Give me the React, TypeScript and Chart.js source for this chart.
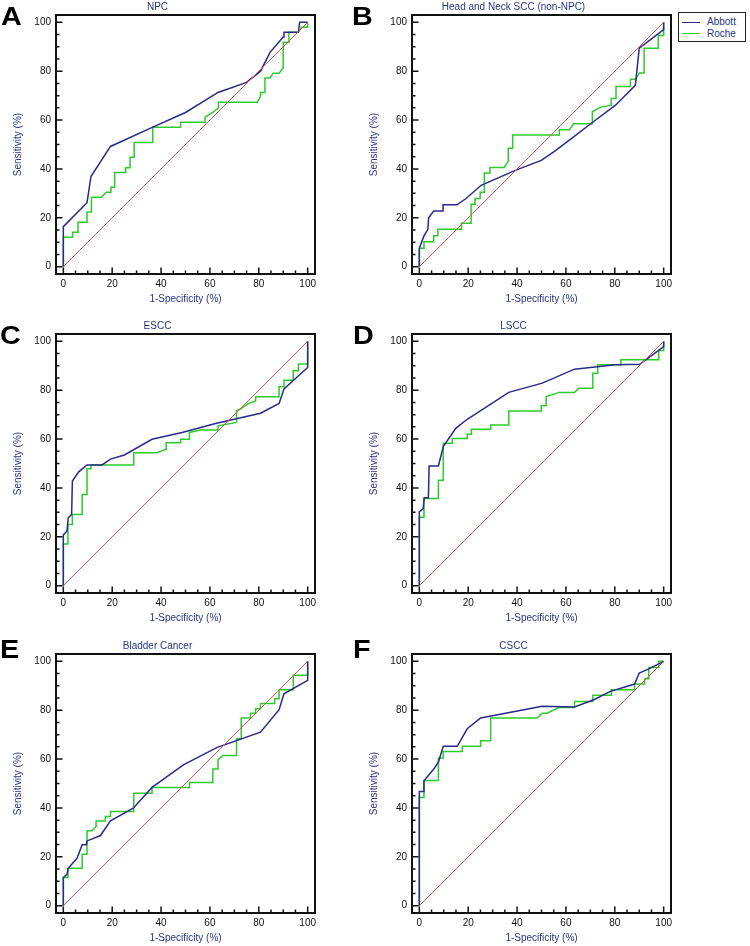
import React, { useEffect, useRef } from "react";
import { Chart, registerables } from "chart.js";

Chart.register(...registerables);

// ---------- data ----------
const panelTitles = [
  "NPC",
  "Head and Neck SCC (non-NPC)",
  "ESCC",
  "LSCC",
  "Bladder Cancer",
  "CSCC",
];
const panelLetters = ["A", "B", "C", "D", "E", "F"];
const seriesNames = ["Abbott", "Roche"];
const tickLabels = [0, 20, 40, 60, 80, 100];
const tickMarks = [0, 5, 10, 15, 20, 25, 30, 35, 40, 45, 50, 55, 60, 65, 70, 75, 80, 85, 90, 95, 100];
const xTitle = "1-Specificity (%)";
const yTitle = "Sensitivity (%)";
const diagonal = [[0, 0], [100, 100]];

const npcAbbott = [[0,0],[0,16.4],[9.7,26.2],[11.3,36.9],[19.3,49.2],[36.6,57.1],[50,63.1],[63.3,71.3],[75,75.4],[80.7,80],[84.6,87.7],[90,94],[90.3,95.9],[96.2,95.9],[96.7,100],[100,100]];
const npcRoche = [[0,0],[0,12],[3.8,12],[3.8,14.1],[6,14.1],[6,18.2],[9.7,18.2],[9.7,22.4],[11.5,22.4],[11.5,28.4],[15.6,28.4],[17.6,30.5],[19.5,30.5],[19.5,32.5],[21,32.5],[21,38.5],[25.5,38.5],[25.5,40.5],[27.3,40.5],[27.3,44.8],[29,44.8],[29,50.8],[36.6,50.8],[36.6,57.1],[48,57.1],[48,59.1],[58,59.1],[58,61.2],[61,63],[63.5,65],[63.5,67.3],[79.4,67.3],[80.7,69.7],[80.7,71.3],[82.5,71.3],[82.5,77.2],[84.5,77.2],[85.9,79.2],[88.3,79.2],[90,81.3],[90,91.8],[92.3,91.8],[92.3,95.9],[96.2,95.9],[97.5,98],[100,98],[100,100]];

const hnAbbott = [[0,0],[0,7.5],[1.9,12.6],[3.5,15.3],[3.8,20],[5.9,22.8],[9.7,22.8],[9.7,25.3],[15.4,25.3],[19,27.8],[25.3,33.3],[39,39.3],[49.9,43.5],[55.3,47.2],[63.4,53.3],[70.8,59],[80.3,66.1],[88.4,74.2],[90,89.4],[100,97],[100,100]];
const hnRoche = [[0,0],[0,7.5],[1.9,7.5],[1.9,10.2],[5.9,10.2],[5.9,12.7],[7.6,12.7],[7.6,15.3],[17.2,15.3],[17.2,17.8],[21.2,17.8],[21.2,25.5],[22.8,25.5],[22.8,27.9],[24.9,27.9],[24.9,30.5],[26.6,30.5],[26.6,38.3],[28.9,38.3],[28.9,40.6],[34.7,40.6],[36.4,43.1],[36.4,48.5],[38.2,48.5],[38.2,53.9],[57.3,53.9],[57.3,56],[61.4,56],[63.1,58.5],[70.8,58.5],[70.8,63.4],[74.2,65.3],[78.5,66],[78.5,68.8],[80.5,68.8],[80.5,73.7],[86.4,73.7],[86.4,76.7],[88.6,76.7],[90,79.3],[92,79.3],[92,89.4],[97.8,89.4],[97.8,94.6],[100,94.6],[100,100]];

const esccAbbott = [[0,0],[0,20.8],[1.5,22.3],[2,27.8],[3.4,29.1],[3.7,42.8],[6.3,46.6],[9.7,49.4],[15.8,49.4],[19.3,51.8],[25,53.5],[36.3,59.9],[48.6,62.7],[62.7,66.5],[80.7,70.6],[88.3,74.6],[90.3,80.5],[100,89.3],[100,100]];
const esccRoche = [[0,0],[0,17.1],[1.9,17.1],[1.9,25],[3.7,25],[3.7,29.1],[7.7,29.1],[7.7,37.3],[9.7,37.3],[9.7,47.9],[11.3,47.9],[11.3,49.4],[28.8,49.4],[28.8,54.4],[38.3,54.4],[42.1,55.8],[42.1,58.5],[48,58.5],[48,59.9],[51.6,59.9],[51.6,62.7],[56.1,63.7],[63.3,63.7],[63.3,65.4],[70.9,66.8],[70.9,71.6],[72.8,72.5],[74.2,73.6],[75.9,74.6],[78.7,75.6],[78.7,77.3],[88.3,77.3],[88.3,81.4],[90.3,81.4],[90.3,84.1],[94.1,84.1],[94.1,88],[96.2,88],[96.2,90.7],[100,90.7],[100,100]];

const lsccAbbott = [[0,0],[0,30.2],[1.6,31.6],[2,36],[3.7,36],[4,49],[7.8,49],[9.8,56.9],[14.9,64.4],[19.6,68.1],[36.6,79.1],[50.3,82.9],[63.5,88.6],[80.2,90.4],[90.2,90.6],[100,97.8],[100,100]];
const lsccRoche = [[0,0],[0,28],[1.9,28],[1.9,35.7],[7.8,35.7],[7.8,43.1],[9.8,43.1],[9.8,58.3],[13.5,58.3],[13.5,60.2],[19.6,60.2],[19.6,62],[21.3,62],[21.3,64],[29.2,64],[29.2,65.8],[36.6,65.8],[36.6,71.5],[49.9,71.5],[49.9,73.6],[51.9,73.6],[51.9,77.4],[57.1,79.1],[63.5,79.1],[65.3,80.8],[71,80.8],[71,86.9],[73,86.9],[73,90.4],[82.5,90.4],[82.5,92.5],[98,92.5],[98,96.2],[100,96.2],[100,100]];

const bladderAbbott = [[0,0],[0,11.5],[1.5,12.8],[2,15.3],[5.6,19.4],[7.7,24.9],[9.4,24.9],[9.7,26.5],[15.2,28.7],[19.3,34.7],[28.6,39.9],[36.3,48.4],[49.3,57.7],[63,64.8],[80.7,71],[88.3,80.2],[90.3,86.7],[100,92.2],[100,100]];
const bladderRoche = [[0,0],[0,11.5],[1.9,11.5],[1.9,15.3],[7.7,15.3],[7.7,21],[9.7,21],[9.7,30.7],[11.7,30.7],[13.4,32.4],[13.4,34.7],[17.2,34.7],[17.2,36.5],[19.3,36.5],[19.3,38.5],[28.8,38.5],[28.8,46],[36.3,46],[36.3,48.4],[51.6,48.4],[51.6,50.4],[61.2,50.4],[61.2,55.9],[63.3,55.9],[63.3,59.7],[65.3,61.5],[70.9,61.5],[70.9,68.3],[72.8,68.3],[72.8,76.8],[76.6,76.8],[76.6,78.7],[78.7,78.7],[78.7,80.6],[80.7,80.6],[80.7,82.7],[86.5,82.7],[86.5,84.7],[88.3,84.7],[88.3,88.4],[94.1,88.4],[94.1,94.3],[100,94.3],[100,100]];

const csccAbbott = [[0,0],[0,46.7],[1.9,46.7],[1.9,51.1],[3.7,53.3],[6,56],[7.8,58.7],[9.8,65.2],[15.5,65.2],[19.6,72.4],[25.1,76.8],[50.3,81.6],[63.5,81.3],[71.4,84.3],[78.2,87.7],[88.1,90.7],[90,95.2],[93.9,96.9],[100,100]];
const csccRoche = [[0,0],[0,44.3],[1.9,44.3],[1.9,51.2],[7.8,51.2],[7.8,60.4],[9.8,60.4],[9.8,63.1],[17.6,63.1],[17.6,65.2],[25.1,65.2],[25.1,67.5],[29.2,67.5],[29.2,76.8],[48.2,76.8],[50.3,78.8],[52.3,78.8],[57,81.1],[63.5,81.1],[63.5,83.6],[71,83.6],[71,86.1],[78.6,86.1],[78.6,88.4],[88.1,88.4],[88.1,90.7],[92.2,90.7],[92.2,92.9],[93.9,92.9],[93.9,97.5],[98,97.5],[98,100],[100,100]];

const abbottSeries = [npcAbbott, hnAbbott, esccAbbott, lsccAbbott, bladderAbbott, csccAbbott];
const rocheSeries = [npcRoche, hnRoche, esccRoche, lsccRoche, bladderRoche, csccRoche];

// ---------- styles ----------
const FONT = "'Liberation Sans', Arial, Helvetica, sans-serif";
const TEXT_BLUE = "#28348a";
const ABBOTT_COLOR = "#2a2a8a";
const ROCHE_COLOR = "#2ccc2c";
const DIAG_COLOR = "rgb(220, 80, 80)";

const CANVAS_W = 340;
const CANVAS_H = 310;
const panelPos = [
  { left: 0, top: 0 },
  { left: 356, top: 0 },
  { left: 0, top: 319 },
  { left: 356, top: 319 },
  { left: 0, top: 639 },
  { left: 356, top: 639 },
];
const letterPos = [
  { left: 1, top: 4 },
  { left: 352, top: 4 },
  { left: 0, top: 323 },
  { left: 353, top: 323 },
  { left: 0, top: 637 },
  { left: 353, top: 637 },
];

const toXY = (arr: number[][]) => arr.map((p) => ({ x: p[0], y: p[1] }));

const framePlugin = {
  id: "rocFrame",
  afterDatasetsDraw(chart: any) {
    const { ctx, chartArea: a, scales } = chart;
    const xs = scales.x;
    const ys = scales.y;
    ctx.save();
    ctx.setLineDash([]);
    ctx.strokeStyle = "#111";
    ctx.lineWidth = 1.5;
    ctx.beginPath();
    for (const v of tickMarks) {
      const len = v % 20 === 0 ? 6.5 : 3.5;
      const px = xs.getPixelForValue(v);
      ctx.moveTo(px, a.bottom);
      ctx.lineTo(px, a.bottom - len);
      const py = ys.getPixelForValue(v);
      ctx.moveTo(a.left, py);
      ctx.lineTo(a.left + len, py);
    }
    ctx.stroke();
    ctx.lineWidth = 2;
    ctx.strokeRect(a.left, a.top, a.right - a.left, a.bottom - a.top);
    ctx.restore();
  },
};

function RocPanel({ idx }: { idx: number }) {
  const ref = useRef<HTMLCanvasElement | null>(null);
  useEffect(() => {
    if (!ref.current) return;
    const setTicks = (s: any) => {
      s.ticks = tickLabels.map((v) => ({ value: v }));
    };
    const chart = new Chart(ref.current, {
      type: "scatter",
      data: {
        datasets: [
          {
            label: "reference",
            data: toXY(diagonal),
            showLine: true,
            borderColor: DIAG_COLOR,
            backgroundColor: DIAG_COLOR,
            borderWidth: 1,
            pointRadius: 0,
          },
          {
            label: seriesNames[0],
            data: toXY(abbottSeries[idx]),
            showLine: true,
            borderColor: ABBOTT_COLOR,
            backgroundColor: ABBOTT_COLOR,
            borderWidth: 1.5,
            pointRadius: 0,
            tension: 0,
          },
          {
            label: seriesNames[1],
            data: toXY(rocheSeries[idx]),
            showLine: true,
            borderColor: ROCHE_COLOR,
            backgroundColor: ROCHE_COLOR,
            borderWidth: 1.5,
            pointRadius: 0,
            tension: 0,
          },
        ],
      },
      options: {
        animation: false,
        responsive: false,
        events: [],
        layout: { padding: { left: 0, top: 0, right: 25, bottom: 0 } },
        plugins: {
          legend: { display: false },
          tooltip: { enabled: false },
          colors: { enabled: false },
          title: {
            display: true,
            text: panelTitles[idx],
            color: TEXT_BLUE,
            font: { family: FONT, size: 10, weight: "normal", lineHeight: 1.5 },
            padding: 0,
          },
        },
        scales: {
          x: {
            type: "linear",
            min: -3,
            max: 103,
            afterBuildTicks: setTicks,
            afterFit: (s: any) => {
              s.height = 36;
            },
            grid: { display: false, drawTicks: false },
            border: { display: false },
            ticks: {
              color: "#111",
              font: { family: FONT, size: 10 },
              padding: 4,
              maxRotation: 0,
              autoSkip: false,
            },
            title: {
              display: true,
              text: xTitle,
              color: TEXT_BLUE,
              font: { family: FONT, size: 10, lineHeight: 1.4 },
              padding: { top: 0, bottom: 4 },
            },
          },
          y: {
            type: "linear",
            min: -3,
            max: 103,
            afterBuildTicks: setTicks,
            afterFit: (s: any) => {
              s.width = 56;
            },
            grid: { display: false, drawTicks: false },
            border: { display: false },
            ticks: {
              color: "#111",
              font: { family: FONT, size: 10 },
              padding: 5,
              autoSkip: false,
            },
            title: {
              display: true,
              text: yTitle,
              color: TEXT_BLUE,
              font: { family: FONT, size: 10, lineHeight: 1.4 },
              padding: { top: 11, bottom: 0 },
            },
          },
        },
      },
      plugins: [framePlugin],
    } as any);
    return () => chart.destroy();
  }, [idx]);

  const pos = panelPos[idx];
  return (
    <canvas
      ref={ref}
      width={CANVAS_W}
      height={CANVAS_H}
      style={{ position: "absolute", left: pos.left, top: pos.top, width: CANVAS_W, height: CANVAS_H, display: "block" }}
    />
  );
}

function Legend() {
  const colors = [ABBOTT_COLOR, ROCHE_COLOR];
  return (
    <div
      style={{
        position: "absolute",
        left: 678,
        top: 12,
        width: 66,
        height: 28,
        border: "1.5px solid #222",
        background: "#fff",
      }}
    >
      {seriesNames.map((name, i) => (
        <div key={name} style={{ position: "absolute", left: 0, top: 3 + i * 11.6, height: 12, width: 66 }}>
          <div
            style={{
              position: "absolute",
              left: 3,
              top: 5.5,
              width: 18,
              height: 0,
              borderTop: `1.5px solid ${colors[i]}`,
            }}
          />
          <div
            style={{
              position: "absolute",
              left: 28,
              top: 0,
              fontFamily: FONT,
              fontSize: 10,
              lineHeight: "12px",
              color: TEXT_BLUE,
              whiteSpace: "nowrap",
            }}
          >
            {name}
          </div>
        </div>
      ))}
    </div>
  );
}

export default function App() {
  return (
    <div
      style={{
        position: "fixed",
        left: 0,
        top: 0,
        width: 750,
        height: 946,
        overflow: "hidden",
        background: "#fff",
      }}
    >
      {panelTitles.map((_, i) => (
        <RocPanel key={i} idx={i} />
      ))}
      {panelLetters.map((l, i) => (
        <div
          key={l}
          style={{
            position: "absolute",
            left: letterPos[i].left,
            top: letterPos[i].top,
            fontFamily: FONT,
            fontWeight: "bold",
            fontSize: 25,
            lineHeight: "25px",
            color: "#000",
            transform: "scaleX(1.15)",
            transformOrigin: "left top",
          }}
        >
          {l}
        </div>
      ))}
      <Legend />
    </div>
  );
}
